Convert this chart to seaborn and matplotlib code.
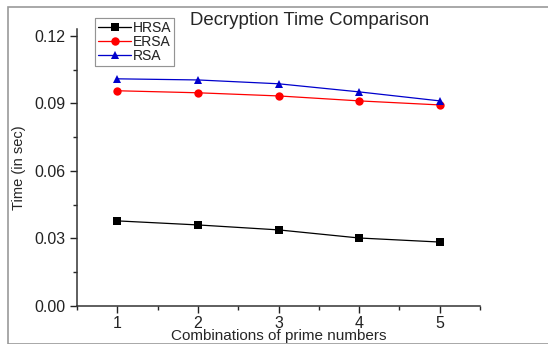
import pandas as pd
import seaborn as sns
import matplotlib.pyplot as plt
from matplotlib.patches import Rectangle
from matplotlib.ticker import MultipleLocator

combos = [1, 2, 3, 4, 5]
hrsa = [0.0378, 0.0360, 0.0338, 0.0302, 0.0284]
ersa = [0.0956, 0.0947, 0.0933, 0.0911, 0.0893]
rsa = [0.1009, 0.1004, 0.0987, 0.0951, 0.0911]
labels = ["HRSA", "ERSA", "RSA"]

df = pd.DataFrame({
    "combo": combos * 3,
    "time": hrsa + ersa + rsa,
    "algo": [labels[0]] * 5 + [labels[1]] * 5 + [labels[2]] * 5,
})

sns.set_style("ticks")
plt.rcParams["font.family"] = ["Liberation Sans", "DejaVu Sans"]

fig = plt.figure(figsize=(5.48, 3.44), dpi=100)
ax = fig.add_axes([0.1405, 0.1105, 0.7355, 0.805])

# gray frame around the whole picture
fig.patches.append(Rectangle((8 / 548, 0), 1, 1 - 7 / 344, transform=fig.transFigure,
                             fill=False, edgecolor="#9a9a9a", linewidth=1.2))

sns.lineplot(data=df, x="combo", y="time", hue="algo", style="algo",
             palette={"HRSA": "black", "ERSA": "red", "RSA": "#0000cc"},
             markers={"HRSA": "s", "ERSA": "o", "RSA": "^"}, dashes=False,
             markersize=6, linewidth=0.9, markeredgewidth=0, ax=ax)

ax.set_xlim(0.5, 5.5)
ax.set_ylim(0, 0.123)
ax.set_xticks(combos)
ax.set_yticks([0.0, 0.03, 0.06, 0.09, 0.12])
ax.set_yticklabels(["0.00", "0.03", "0.06", "0.09", "0.12"])
ax.xaxis.set_minor_locator(MultipleLocator(0.5))
ax.yaxis.set_minor_locator(MultipleLocator(0.015))
ax.tick_params(which="major", length=5, width=1, labelsize=11.5, colors="#222222")
ax.tick_params(which="minor", length=3, width=1)
ax.tick_params(axis="x", which="major", pad=2)
for s in ["top", "right"]:
    ax.spines[s].set_visible(False)
for s in ["left", "bottom"]:
    ax.spines[s].set_linewidth(1.1)
    ax.spines[s].set_color("#333333")

ax.set_xlabel("Combinations of prime numbers", fontsize=11, labelpad=-1)
ax.set_ylabel("Time (in sec)", fontsize=10.5, labelpad=6)
ax.text(0.578, 1.032, "Decryption Time Comparison", transform=ax.transAxes,
        ha="center", va="center", fontsize=13.4)

leg = ax.legend(loc="upper left", bbox_to_anchor=(0.045, 1.04), frameon=True,
                fancybox=False, fontsize=10, handlelength=2.4, handletextpad=0.1,
                labelspacing=0.0, borderpad=0.2, borderaxespad=0)
leg.get_frame().set_edgecolor("#888888")
leg.get_frame().set_linewidth(0.8)
ax.add_artist(leg)

fig.savefig("out.png", dpi=100)
